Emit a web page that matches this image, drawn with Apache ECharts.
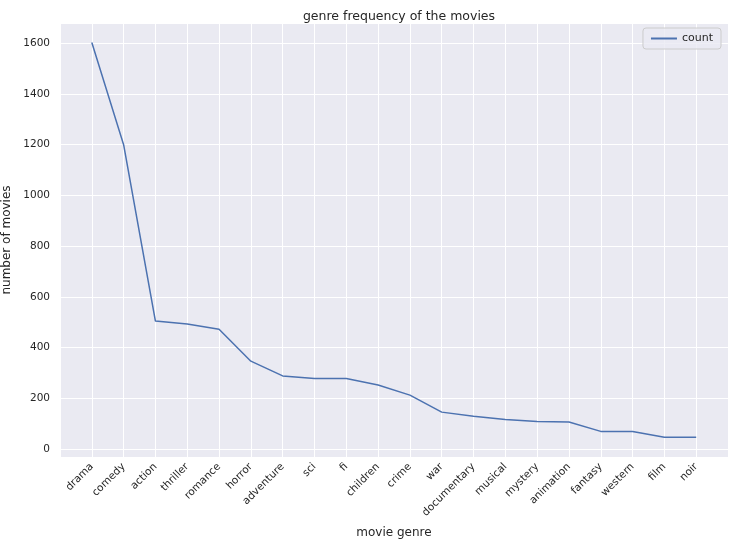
<!DOCTYPE html>
<html lang="en">
<head>
<meta charset="UTF-8"/>
<script src="https://cdn.jsdelivr.net/npm/echarts@6/dist/echarts.min.js"></script>
<title>genre frequency</title>
</head>
<body style="margin:0">
<div id="main" style="width:735px;height:545px;"></div>
<script type="text/javascript">
var genres = ['drama','comedy','action','thriller','romance','horror','adventure','sci','fi','children','crime','war','documentary','musical','mystery','animation','fantasy','western','film','noir'];
var counts = [1603, 1200, 504, 493, 472, 346, 288, 278, 278, 252, 212, 145, 129, 116, 108, 106, 69, 69, 46, 46];

var myChart = echarts.init(document.getElementById('main'));
var font = 'DejaVu Sans';
var option = {
    backgroundColor: '#ffffff',
    animation: false,
    title: {
        text: 'genre frequency of the movies',
        left: 394, top: 5, textAlign: 'center',
        textStyle: {color: '#262626', fontSize: 12.5, fontWeight: 'normal', fontFamily: font}
    },
    legend: {
        right: 14, top: 28,
        backgroundColor: 'rgba(234,234,242,0.8)',
        borderColor: '#cccccc', borderWidth: 1, borderRadius: 3,
        padding: [5, 8],
        itemWidth: 26, itemHeight: 2,
        icon: 'rect',
        textStyle: {color: '#262626', fontSize: 11, fontFamily: font},
        data: ['count']
    },
    grid: {left: 60, right: 7, top: 23, bottom: 88, containLabel: false, outerBoundsMode: 'none',
        show: true, backgroundColor: '#eaeaf2', borderWidth: 0},
    xAxis: {
        type: 'value', min: -1, max: 20, interval: 1,
        name: 'movie genre', nameLocation: 'middle', nameGap: 70,
        nameTextStyle: {color: '#262626', fontSize: 12, fontFamily: font},
        axisLine: {show: false}, axisTick: {show: false},
        splitLine: {lineStyle: {color: '#ffffff', width: 1}},
        axisLabel: {
            rotate: 45, color: '#262626', fontSize: 10.5, fontFamily: font, margin: 8,
            showMinLabel: true, showMaxLabel: true,
            formatter: function (v) { return genres[v] || ''; }
        }
    },
    yAxis: {
        type: 'value', min: -32, max: 1680, splitNumber: 8,
        name: 'number of movies', nameLocation: 'middle', nameGap: 46,
        nameTextStyle: {color: '#262626', fontSize: 12, fontFamily: font},
        axisLine: {show: false}, axisTick: {show: false},
        splitLine: {lineStyle: {color: '#ffffff', width: 1}},
        axisLabel: {color: '#262626', fontSize: 10.5, fontFamily: font, margin: 10,
            showMinLabel: false, showMaxLabel: false,
            formatter: function (v) { return String(v); }}
    },
    series: [{
        name: 'count', type: 'line', symbol: 'none',
        lineStyle: {color: '#4c72b0', width: 1.5},
        itemStyle: {color: '#4c72b0'},
        data: counts.map(function (c, i) { return [i, c]; })
    }]
};
myChart.setOption(option);
</script>
</body>
</html>
